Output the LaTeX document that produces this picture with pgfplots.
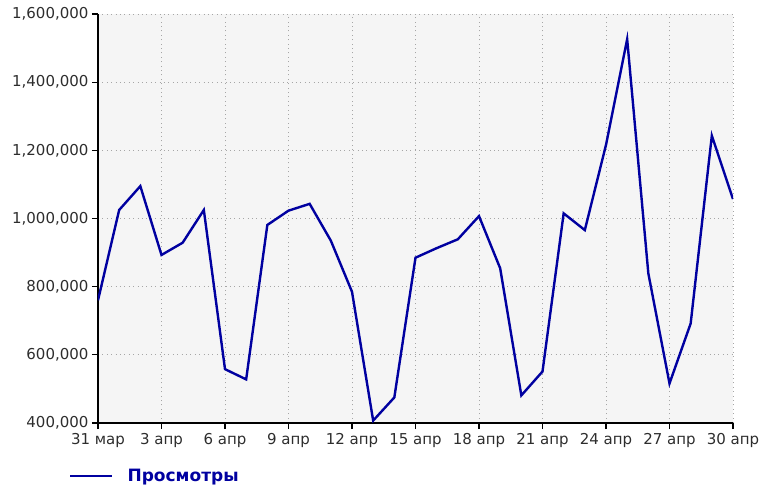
\documentclass[border=0pt]{standalone}
\usepackage{pgfplots}
\pgfplotsset{compat=1.18}
\usepackage{fontspec}
\setmainfont{DejaVu Sans}
\definecolor{serblue}{RGB}{0,0,160}
\definecolor{ticktext}{RGB}{45,45,45}
\begin{document}
\begin{tikzpicture}
\useasboundingbox (-98bp,-68bp) rectangle (662bp,423bp);
\begin{axis}[
  scale only axis,
  width=635bp, height=409bp,
  xmin=0, xmax=30, ymin=400000, ymax=1600000,
  axis x line*=bottom, axis y line*=left,
  axis line style={line width=2bp, -},
  axis background/.style={fill=gray!8},
  xtick={0,3,...,30},
  xticklabels={31 мар,3 апр,6 апр,9 апр,12 апр,15 апр,18 апр,21 апр,24 апр,27 апр,30 апр},
  ytick={400000,600000,...,1600000},
  scaled y ticks=false,
  /pgf/number format/.cd, fixed, 1000 sep={,}, assume math mode=true,
  /pgfplots/.cd,
  tick align=outside,
  major tick length=6bp,
  tick style={line width=1.2bp, black},
  tick label style={font=\fontsize{15bp}{18bp}\selectfont, text=ticktext},
  xticklabel style={yshift=-1bp},
  grid=major,
  major grid style={gray!70, line width=0.8bp, dash pattern=on 1bp off 3.4bp},
  legend style={at={(0,0)}, anchor=west, xshift=-32bp, yshift=-53bp, draw=none, fill=none,
    font=\fontsize{17bp}{20bp}\selectfont\bfseries, text=serblue},
  legend image code/.code={\draw[#1] (0bp,0bp) -- (42bp,0bp);},
  legend cell align=left,
]
\addplot[serblue, line width=2.4bp] coordinates {
(0,760000) (1,1025000) (2,1095000) (3,893000) (4,929000) (5,1025000)
(6,558000) (7,528000) (8,981000) (9,1023000) (10,1043000) (11,935000)
(12,785000) (13,407000) (14,475000) (15,885000) (16,913000) (17,939000)
(18,1007000) (19,854000) (20,481000) (21,551000) (22,1015000) (23,966000)
(24,1216000) (25,1526000) (26,839000) (27,516000) (28,692000) (29,1243000)
(30,1057000)
};
\addlegendentry{\hspace{12bp}Просмотры}
\end{axis}
\end{tikzpicture}
\end{document}
